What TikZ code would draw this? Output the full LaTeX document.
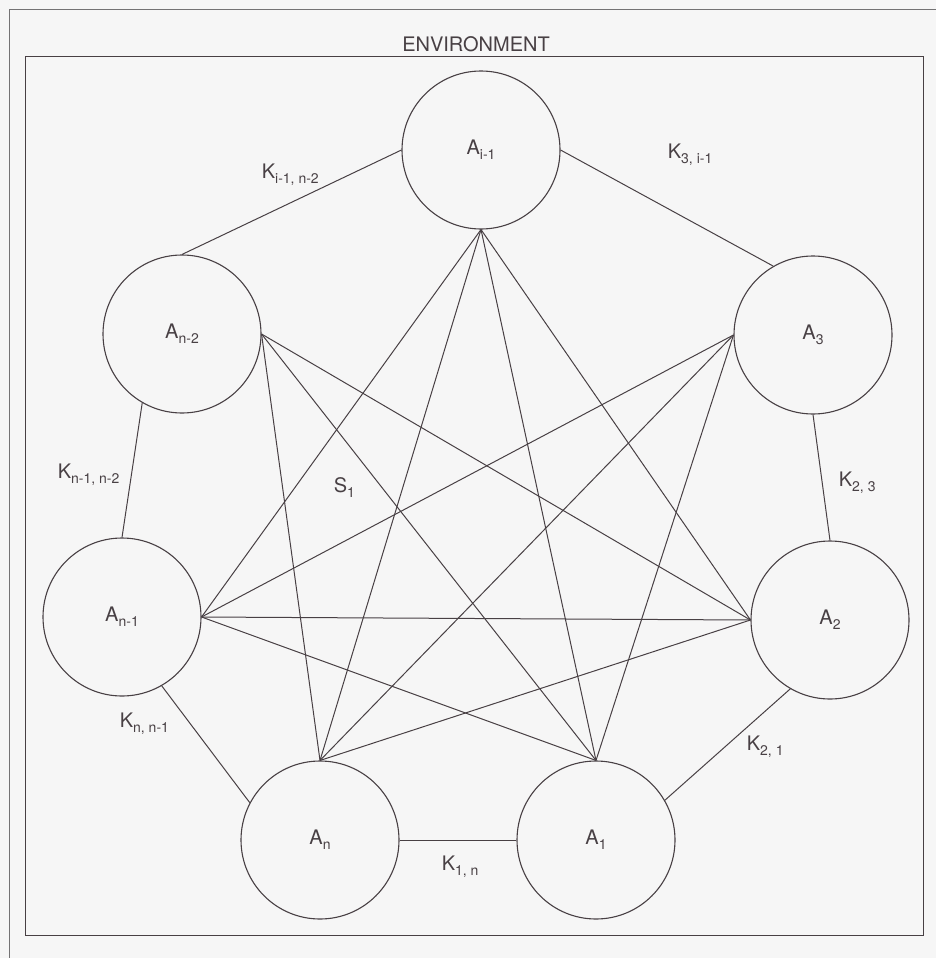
\documentclass[tikz,border=0pt]{standalone}
\usepackage{fontspec}
\setmainfont{TeX Gyre Heros}
\usepackage{tikz}

\definecolor{inkgray}{RGB}{72,64,68}
\definecolor{paper}{RGB}{246,246,246}
\newcommand{\lsub}[1]{\raisebox{-5pt}{\fontsize{14}{14}\selectfont #1}}

\begin{document}
\begin{tikzpicture}[x=1pt, y=-1pt, line width=1pt, color=inkgray,
    agent/.style={circle, draw=inkgray, line width=1.1pt, minimum size=158pt,
                  inner sep=0pt, font=\fontsize{20}{22}\selectfont},
    klabel/.style={anchor=base west, font=\fontsize{20}{22}\selectfont}]
  \fill[paper] (0,0) rectangle (936,958);
  \useasboundingbox (0,0) rectangle (936,958);
  % frames
  \draw[gray!80!inkgray, line width=0.9pt] (9,958) -- (9,9) -- (936,9);
  \draw (25,57) rectangle (923,935);
  \node[font=\fontsize{20}{22}\selectfont] (env) at (476,44) {ENVIRONMENT};
  % agents
  \node[agent] (aim1) at (481,150) {A\lsub{i-1}};
  \node[agent] (a3)   at (813,335) {A\lsub{3}};
  \node[agent] (a2)   at (830,620) {A\lsub{2}};
  \node[agent] (a1)   at (596,840) {A\lsub{1}};
  \node[agent] (an)   at (320,840) {A\lsub{n}};
  \node[agent] (anm1) at (122,617) {A\lsub{n-1}};
  \node[agent] (anm2) at (182,334) {A\lsub{n-2}};
  % links K
  \draw (anm2.north) -- (aim1.west);
  \draw (aim1.east) -- (a3.120);
  \draw (a3.south) -- (a2.north);
  \draw (a2.240) -- (a1.30);
  \draw (a1.west) -- (an.east);
  \draw (an.152) -- (anm1.300);
  \draw (anm1.north) -- (anm2.240);
  % system S1
  \draw (aim1.south) -- (anm1.east);
  \draw (aim1.south) -- (an.north);
  \draw (aim1.south) -- (a1.north);
  \draw (aim1.south) -- (a2.west);
  \draw (a3.west) -- (anm1.east);
  \draw (a3.west) -- (an.north);
  \draw (a3.west) -- (a1.north);
  \draw (a2.west) -- (anm2.east);
  \draw (a2.west) -- (anm1.east);
  \draw (a2.west) -- (an.north);
  \draw (a1.north) -- (anm1.east);
  \draw (a1.north) -- (anm2.east);
  \draw (an.north) -- (anm2.east);
  % labels
  \node[klabel] (kim1nm2) at (258,178) {K\lsub{i-1, n-2}};
  \node[klabel] (k3im1)   at (664,158) {K\lsub{3, i-1}};
  \node[klabel] (k23)     at (835,486) {K\lsub{2, 3}};
  \node[klabel] (s1)      at (330,492) {S\lsub{1}};
  \node[klabel] (knm1nm2) at (54,478)  {K\lsub{n-1, n-2}};
  \node[klabel] (k21)     at (743,750) {K\lsub{2, 1}};
  \node[klabel] (knnm1)   at (116,727) {K\lsub{n, n-1}};
  \node[klabel] (k1n)     at (438,870) {K\lsub{1, n}};
\end{tikzpicture}
\end{document}
